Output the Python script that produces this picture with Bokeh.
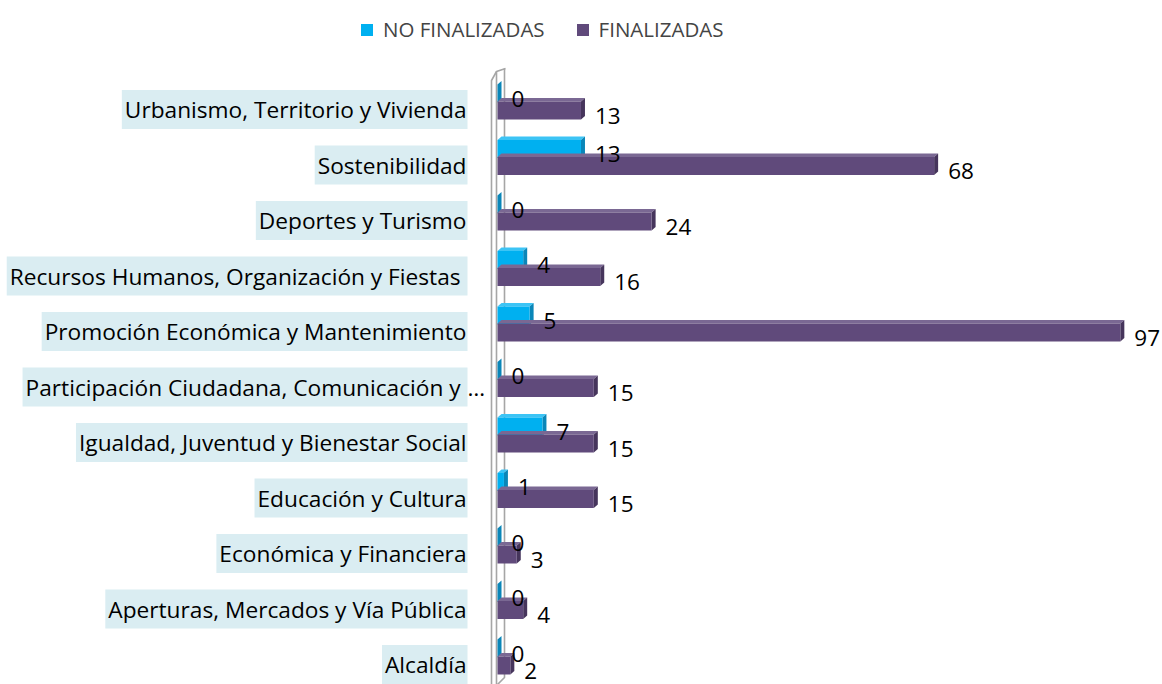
from bokeh.plotting import figure
from bokeh.models import Range1d, ColumnDataSource, Legend, LegendItem
from bokeh.core.properties import value
from bokeh.embed import file_html
from bokeh.resources import INLINE

# ---------------- data (top to bottom) ----------------
categories = [
    "Urbanismo, Territorio y Vivienda",
    "Sostenibilidad",
    "Deportes y Turismo",
    "Recursos Humanos,  Organización y Fiestas",
    "Promoción Económica y Mantenimiento",
    "Participación Ciudadana,  Comunicación y…",
    "Igualdad, Juventud y Bienestar Social",
    "Educación y Cultura",
    "Económica y Financiera",
    "Aperturas, Mercados y Vía Pública",
    "Alcaldía",
]
no_finalizadas = [0, 13, 0, 4, 5, 0, 7, 1, 0, 0, 0]
finalizadas = [13, 68, 24, 16, 97, 15, 15, 15, 3, 4, 2]
series_names = ["NO FINALIZADAS", "FINALIZADAS"]

# ---------------- layout ----------------
W, H = 1162, 684
PX_X = 6.421             # px per value unit
ROW = 55.5               # px per category row
ORIGIN_PX = 497
FIRST_ROW_PX = 110
X0 = -ORIGIN_PX / PX_X
X1 = X0 + W / PX_X
Y_TOP = -FIRST_ROW_PX / ROW
Y_BOT = Y_TOP + H / ROW

FONT = "Open Sans"
BLUE, BLUE_SIDE, BLUE_TOP = "#00b0f0", "#0a86b8", "#3cc4f5"
PURP, PURP_SIDE, PURP_TOP = "#604a7b", "#46355c", "#7a6893"

p = figure(width=W, height=H, output_backend="svg", toolbar_location=None,
           x_range=Range1d(X0, X1), y_range=Range1d(Y_BOT, Y_TOP),
           x_axis_location=None, y_axis_location=None, min_border=0,
           background_fill_color="white", border_fill_color="white")
p.grid.visible = False
p.outline_line_color = None

def sx(px):
    return X0 + px / PX_X

def sy(px):
    return Y_TOP + px / ROW

rows = list(range(len(categories)))
BAR_H = 18 / ROW
BLUE_SHIFT = 17 / ROW
DEPTH_X, DEPTH_Y = 4 / PX_X, 3.5 / ROW

# ---------------- wall (3D axis) ----------------
wall_col = "#a6a6a6"
p.line([sx(491), sx(491), sx(496), sx(505)], [sy(684), sy(80), sy(71), sy(68)],
       line_color=wall_col, line_width=1.6)
p.line([sx(496), sx(496)], [sy(71), sy(684)], line_color=wall_col, line_width=1.6)
p.line([sx(504), sx(504), sx(497)], [sy(68), sy(677), sy(684)],
       line_color=wall_col, line_width=1.6)

# ---------------- bars ----------------
def draw_series(vals, offset, main, side, top):
    ys = [r + offset for r in rows]
    src = ColumnDataSource(dict(y=ys, v=vals, txt=[str(v) for v in vals]))
    tx, ty, fx, fy = [], [], [], []
    for y, v in zip(ys, vals):
        yt = y - BAR_H / 2
        yb = y + BAR_H / 2
        tx.append([0, DEPTH_X, v + DEPTH_X, v])
        ty.append([yt, yt - DEPTH_Y, yt - DEPTH_Y, yt])
        fx.append([v, v + DEPTH_X, v + DEPTH_X, v])
        fy.append([yt, yt - DEPTH_Y, yb - DEPTH_Y, yb])
    p.patches(tx, ty, fill_color=top, line_color=None)
    p.patches(fx, fy, fill_color=side, line_color=None)
    r = p.hbar(y="y", right="v", left=0, height=BAR_H, source=src,
               fill_color=main, line_color=None)
    return r, src

r_no, s_no = draw_series(no_finalizadas, -BLUE_SHIFT, BLUE, BLUE_SIDE, BLUE_TOP)
r_fi, s_fi = draw_series(finalizadas, 0.0, PURP, PURP_SIDE, PURP_TOP)

for src in (s_no, s_fi):
    p.text(x="v", y="y", text="txt", source=src, x_offset=14, y_offset=5,
           text_font=value(FONT), text_font_size="22.5px", text_color="black",
           text_align="left", text_baseline="middle")

# ---------------- category labels ----------------
ELL = "…"
bodies = [c[:-1] if c.endswith(ELL) else c for c in categories]
csrc = ColumnDataSource(dict(y=rows, x=[0] * len(rows), t=bodies))
p.text(x="x", y="y", text="t", source=csrc, x_offset=-30, y_offset=-1,
       text_font=value(FONT), text_font_size="22.7px", text_color="black",
       text_align="right", text_baseline="middle",
       background_fill_color="#daedf2",
       padding=dict(left=3, right=1, top=4, bottom=4))
ell_rows = [r for r, c in zip(rows, categories) if c.endswith(ELL)]
esrc = ColumnDataSource(dict(y=ell_rows, x=[0] * len(ell_rows), t=[ELL] * len(ell_rows)))
p.text(x="x", y="y", text="t", source=esrc, x_offset=-30, y_offset=-1,
       text_font=value(FONT), text_font_size="22.7px", text_color="black",
       text_align="left", text_baseline="middle")

# ---------------- legend ----------------
legend = Legend(items=[LegendItem(label=series_names[0], renderers=[r_no]),
                       LegendItem(label=series_names[1], renderers=[r_fi])],
                orientation="horizontal", location=(359, 641),
                glyph_width=15, glyph_height=15, label_standoff=9, spacing=30,
                label_text_font=FONT, label_text_font_size="20.5px",
                border_line_color=None, background_fill_alpha=0,
                padding=2, margin=0)
p.add_layout(legend, "center")

open("out.html", "w").write(file_html(p, INLINE))
